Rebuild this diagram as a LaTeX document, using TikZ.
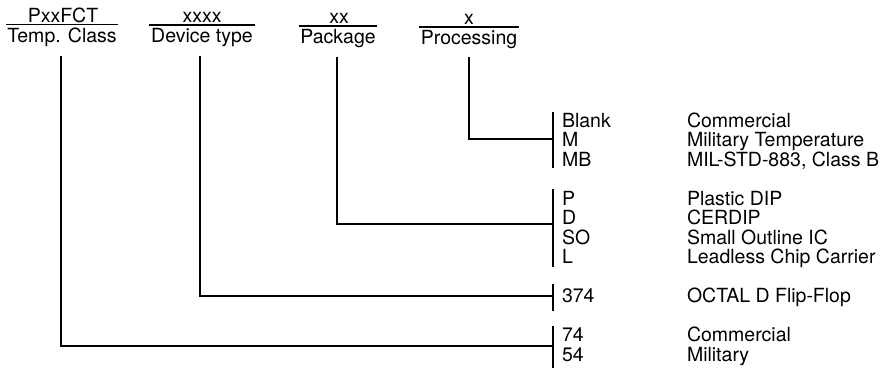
\documentclass[tikz,border=0pt]{standalone}
\usepackage{fontspec}
\setmainfont{TeX Gyre Heros}
\begin{document}
\begin{tikzpicture}[x=1pt,y=-1pt,
  every node/.style={inner sep=0pt,outer sep=0pt,font=\fontsize{19.5}{19.5}\selectfont},
  hd/.style={anchor=base},
  lbl/.style={anchor=base west},
  ln/.style={line width=1.5pt,line cap=rect}]
\useasboundingbox (0,0) rectangle (883,369);
% headers
\node[hd] (t1) at (63,23) {PxxFCT};
\node[hd] (b1) at (62,43) {Temp. Class};
\node[hd] (t2) at (202,23) {xxxx};
\node[hd] (b2) at (202,43) {Device type};
\node[hd] (t3) at (339,24) {xx};
\node[hd] (b3) at (338,44) {Package};
\node[hd] (t4) at (469,25) {x};
\node[hd] (b4) at (469,45) {Processing};
\foreach \b in {b1,b2,b3,b4}{
  \draw[ln] ([xshift=-1pt,yshift=4pt]\b.north west) -- ([xshift=1pt,yshift=4pt]\b.north east);
}
% codes
\node[lbl] (cBlank) at (562,127) {Blank};
\node[lbl] (cM) at (562,146.5) {M};
\node[lbl] (cMB) at (562,166) {MB};
\node[lbl] (cP) at (562,205) {P};
\node[lbl] (cD) at (562,224.5) {D};
\node[lbl] (cSO) at (562,244) {SO};
\node[lbl] (cL) at (562,263.5) {L};
\node[lbl] (c374) at (562,302.5) {374};
\node[lbl] (c74) at (562,341.5) {74};
\node[lbl] (c54) at (562,361) {54};
% descriptions
\node[lbl] (dBlank) at (687,127) {Commercial};
\node[lbl] (dM) at (687,146.5) {Military Temperature};
\node[lbl] (dMB) at (687,166) {MIL-STD-883, Class B};
\node[lbl] (dP) at (687,205) {Plastic DIP};
\node[lbl] (dD) at (687,224.5) {CERDIP};
\node[lbl] (dSO) at (687,244) {Small Outline IC};
\node[lbl] (dL) at (687,263.5) {Leadless Chip Carrier};
\node[lbl] (d374) at (687,302.5) {OCTAL D Flip-Flop};
\node[lbl] (d74) at (687,341.5) {Commercial};
\node[lbl] (d54) at (687,361) {Military};
% bars
\coordinate (g1a) at (553,113); \coordinate (g1b) at (553,167);
\coordinate (g2a) at (553,190); \coordinate (g2b) at (553,266);
\coordinate (g3a) at (553,285); \coordinate (g3b) at (553,310);
\coordinate (g4a) at (553,327); \coordinate (g4b) at (553,367);
\draw[ln] (g1a) -- (g1b);
\draw[ln] (g2a) -- (g2b);
\draw[ln] (g3a) -- (g3b);
\draw[ln] (g4a) -- (g4b);
% connector start and end points
\coordinate (v1) at (61,57);  \coordinate (e1) at (553,346);
\coordinate (v2) at (200,57); \coordinate (e2) at (553,296);
\coordinate (v3) at (337,58); \coordinate (e3) at (553,224);
\coordinate (v4) at (469,58); \coordinate (e4) at (553,139);
\draw[ln] (v1) |- (e1);
\draw[ln] (v2) |- (e2);
\draw[ln] (v3) |- (e3);
\draw[ln] (v4) |- (e4);
\end{tikzpicture}
\end{document}
